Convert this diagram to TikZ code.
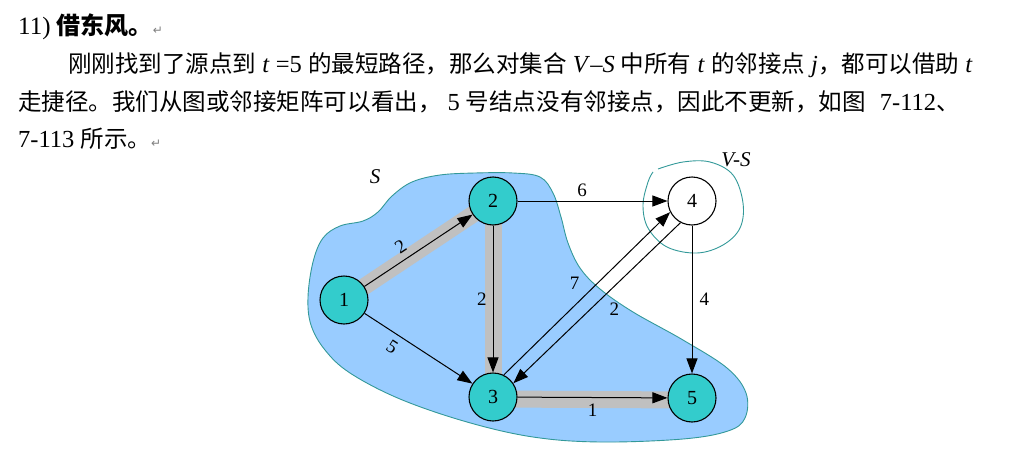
\documentclass[tikz,border=0pt]{standalone}
\usepackage{fontspec}
\setmainfont{Liberation Serif}
\newfontfamily\zh{Noto Sans CJK SC}[Scale=0.96]
\newfontfamily\symfont{DejaVu Sans}
\usepackage{tikz}
\usetikzlibrary{arrows.meta,positioning,backgrounds}
\usepackage{xcolor}
\definecolor{blobblue}{RGB}{153,204,255}
\definecolor{blobteal}{RGB}{51,153,153}
\definecolor{nodeteal}{RGB}{51,204,204}
\definecolor{hlgrey}{RGB}{192,192,192}
\newcommand{\parmark}{{\symfont\color{gray}\fontsize{12}{12}\selectfont ↵}}

\begin{document}
\begin{tikzpicture}[x=1pt, y=-1pt,
    vert/.style={circle, draw=black, line width=1.1pt, fill=nodeteal,
        minimum size=48pt, inner sep=0pt, font=\fontsize{20}{20}\selectfont},
    arr/.style={-{Triangle[length=15pt, width=11pt]}, line width=1pt},
    hl/.style={line width=17pt, hlgrey},
    wlab/.style={font=\fontsize{19}{19}\selectfont, inner sep=1pt},
    txt/.style={anchor=base west, inner sep=0pt, font=\fontsize{24.5}{24.5}\selectfont}
]
    \useasboundingbox (0,0) rectangle (1028,455);

    % text above the figure
    \node[txt, font=\fontsize{25}{25}\selectfont] (title) at (18,34) {11) {\zh\bfseries 借东风。}\parmark};
    \node[txt] (line1) at (68,72) {{\zh 刚刚找到了源点到} \textit{t} =5 {\zh 的最短路径，那么对集合} \textit{V}–\textit{S} {\zh 中所有} \textit{t} {\zh 的邻接点} \textit{j}{\zh ，都可以借助} \textit{t}};
    \node[txt] (line2) at (18,110) {{\zh 走捷径。我们从图或邻接矩阵可以看出，}\hspace{6pt}5 {\zh 号结点没有邻接点，因此不更新，如图}\hspace{8pt} 7-112{\zh 、}};
    \node[txt] (line3) at (18,147) {7-113 {\zh 所示。}\parmark};

    % vertices
    \node[vert] (n1) at (344,300) {1};
    \node[vert] (n2) at (493,201) {2};
    \node[vert] (n3) at (493,397) {3};
    \node[vert, fill=white] (n4) at (692,201) {4};
    \node[vert] (n5) at (692,398) {5};

    \node[wlab, font=\fontsize{21}{21}\selectfont\itshape] (setS) at (375,177) {S};
    \node[wlab, font=\fontsize{21}{21}\selectfont\itshape] (setVS) at (736,160) {V-S};

    \begin{scope}[on background layer]
        \draw[blobteal, fill=blobblue, line width=0.9pt] plot[smooth cycle, tension=0.6] coordinates {
            (308,297) (313,262) (323,238) (340,226) (363,221) (378,212) (392,196) (412,182)
            (440,175) (475,173) (513,173) (540,177) (553,193) (561,217) (568,243) (580,268)
            (600,289) (633,312) (683,340) (727,368) (746,393) (745,418) (728,431) (683,439)
            (600,442) (533,437) (467,422) (400,399) (350,373) (325,350) (311,325)};
        \draw[blobteal, line width=0.9pt] plot[smooth, tension=0.6] coordinates {
            (658,169) (683,162) (710,162) (733,175) (743,203) (740,228) (723,245) (697,253)
            (667,247) (648,228) (643,205) (648,182) (653,172)};
        \draw[hl] (n1.center) -- (n2.center);
        \draw[hl] (n2.center) -- (n3.center);
        \draw[hl] ([yshift=-2pt]n3.center) -- ([yshift=-2pt]n5.center);
    \end{scope}

    \draw[arr] (n1) -- (n2) node[wlab, pos=0.4, above=5pt, sloped] (w12) {2};
    \draw[arr] (n1) -- (n3) node[wlab, pos=0.32, below=5pt, sloped] (w13) {5};
    \draw[arr] (n2) -- (n3) node[wlab, midway, left=5pt] (w23) {2};
    \draw[arr] (n2) -- (n4) node[wlab, pos=0.43, above=3pt] (w24) {6};
    \draw[arr] (n3.64) -- (n4.207) node[wlab, pos=0.56, left=16pt] (w34) {7};
    \draw[arr] (n4.242) -- (n3.34) node[wlab, pos=0.54, right=18pt] (w43) {2};
    \draw[arr] (n4) -- (n5) node[wlab, midway, right=6pt] (w45) {4};
    \draw[arr] (n3) -- (n5) node[wlab, midway, below=5pt] (w35) {1};
\end{tikzpicture}
\end{document}
